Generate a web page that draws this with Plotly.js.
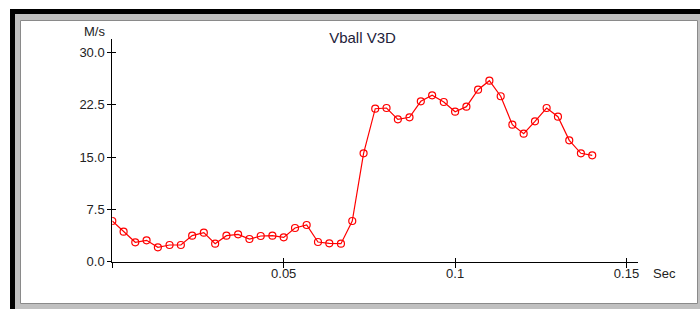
<!DOCTYPE html>
<html>
<head>
<meta charset="utf-8">
<script src="https://cdn.plot.ly/plotly-3.0.1.min.js"></script>
<style>html,body{margin:0;padding:0;background:#fff;}#chart{width:700px;height:309px;}</style>
</head>
<body>
<div id="chart"></div>
<script>
// Time (s)
var timeSec = [0.0000,0.0033,0.0067,0.0100,0.0133,0.0167,0.0200,0.0233,0.0267,0.0300,
  0.0333,0.0367,0.0400,0.0433,0.0467,0.0500,0.0533,0.0567,0.0600,0.0633,
  0.0667,0.0700,0.0733,0.0767,0.0800,0.0833,0.0867,0.0900,0.0933,0.0967,
  0.1000,0.1033,0.1067,0.1100,0.1133,0.1167,0.1200,0.1233,0.1267,0.1300,
  0.1333,0.1367,0.1400];
// Vball V3D (M/s)
var vball = [5.83,4.30,2.78,3.06,2.06,2.39,2.39,3.73,4.16,2.58,
  3.73,3.92,3.25,3.68,3.73,3.49,4.83,5.26,2.82,2.63,
  2.58,5.83,15.53,21.92,22.02,20.40,20.69,22.98,23.84,22.88,
  21.49,22.21,24.64,25.93,23.70,19.63,18.34,20.11,22.02,20.77,
  17.39,15.53,15.24];
var yTicks = [0, 7.5, 15, 22.5, 30];
var xTicks = [0, 0.05, 0.1, 0.15];
var xTickText = ['', '0.05', '0.1', '0.15'];

var W = 700, H = 309;
function fx(p){ return p / W; }
function fy(p){ return 1 - p / H; }

var font = {family: 'Arial, "Liberation Sans", sans-serif', size: 13, color: '#222'};
var xDom = [fx(112.3), fx(638.3)];
var yDom = [fy(261.7), fy(39)];
var xRange = [0, 0.15344];
var yRange = [0, 31.905];

var traces = [
  {x: timeSec, y: vball, type: 'scatter', mode: 'lines+markers',
   line: {color: '#ff0000', width: 1.2},
   marker: {symbol: 'circle-open', size: 7, color: '#ff0000', line: {width: 1.2, color: '#ff0000'}},
   hoverinfo: 'skip', showlegend: false},
  {x: timeSec, y: vball, type: 'scatter', mode: 'markers', xaxis: 'x2', yaxis: 'y2',
   marker: {opacity: 0, size: 1}, hoverinfo: 'skip', showlegend: false},
  {x: timeSec, y: vball, type: 'scatter', mode: 'markers', xaxis: 'x3', yaxis: 'y2',
   marker: {opacity: 0, size: 1}, hoverinfo: 'skip', showlegend: false}
];

var axBase = {showgrid: false, zeroline: false, fixedrange: true, automargin: false};

var layout = {
  width: W, height: H,
  margin: {l: 0, r: 0, t: 0, b: 0, pad: 0},
  paper_bgcolor: '#ffffff',
  plot_bgcolor: 'rgba(0,0,0,0)',
  showlegend: false,
  font: font,
  title: {text: 'Vball V3D', font: {family: font.family, size: 15, color: '#22223a'},
          x: fx(362.5), xref: 'paper', xanchor: 'center', y: fy(37.5), yref: 'paper', yanchor: 'middle'},
  xaxis: Object.assign({}, axBase, {domain: xDom, range: xRange, anchor: 'y',
    showline: true, linecolor: '#000', linewidth: 1,
    ticks: '', 
    tickmode: 'array', tickvals: xTicks, ticktext: xTickText, tickfont: font}),
  xaxis2: Object.assign({}, axBase, {domain: xDom, range: xRange, anchor: 'y', overlaying: 'x',
    showline: false, ticks: 'inside', ticklen: 4, tickwidth: 1, tickcolor: '#000',
    tickmode: 'array', tickvals: xTicks, showticklabels: false}),
  xaxis3: Object.assign({}, axBase, {domain: xDom, range: xRange, anchor: 'y', overlaying: 'x',
    showline: false, ticks: 'outside', ticklen: 5, tickwidth: 1, tickcolor: '#000',
    tickmode: 'array', tickvals: xTicks, showticklabels: false}),
  yaxis: Object.assign({}, axBase, {domain: yDom, range: yRange, anchor: 'x',
    showline: true, linecolor: '#000', linewidth: 1,
    ticks: 'outside', ticklen: 4, tickwidth: 1, tickcolor: '#000',
    tickmode: 'array', tickvals: yTicks, tickformat: '.1f', tickfont: font}),
  yaxis2: Object.assign({}, axBase, {domain: yDom, range: yRange, anchor: 'x', overlaying: 'y',
    showline: false, ticks: 'inside', ticklen: 4, tickwidth: 1, tickcolor: '#000',
    tickmode: 'array', tickvals: yTicks, showticklabels: false}),
  annotations: [
    {text: 'M/s', xref: 'paper', yref: 'paper', x: fx(94), y: fy(32), xanchor: 'center', yanchor: 'middle',
     showarrow: false, font: {family: font.family, size: 13, color: '#222'}},
    {text: 'Sec', xref: 'paper', yref: 'paper', x: fx(651), y: fy(273), xanchor: 'left', yanchor: 'middle',
     showarrow: false, font: {family: font.family, size: 13, color: '#222'}}
  ],
  shapes: [
    {type: 'rect', xref: 'paper', yref: 'paper', layer: 'below', x0: fx(15), x1: fx(700), y0: fy(14), y1: fy(309),
     fillcolor: '#c0c0c0', line: {width: 0}},
    {type: 'rect', xref: 'paper', yref: 'paper', layer: 'below', x0: fx(10), x1: fx(700), y0: fy(9), y1: fy(14),
     fillcolor: '#000000', line: {width: 0}},
    {type: 'rect', xref: 'paper', yref: 'paper', layer: 'below', x0: fx(10), x1: fx(15), y0: fy(9), y1: fy(309),
     fillcolor: '#000000', line: {width: 0}},
    {type: 'rect', xref: 'paper', yref: 'paper', layer: 'below', x0: fx(20.5), x1: fx(697.5), y0: fy(20.5), y1: fy(303.5),
     fillcolor: '#ffffff', line: {width: 1, color: '#8a8a8a'}}
  ]
};

Plotly.newPlot('chart', traces, layout, {staticPlot: true, displayModeBar: false});
</script>
</body>
</html>
